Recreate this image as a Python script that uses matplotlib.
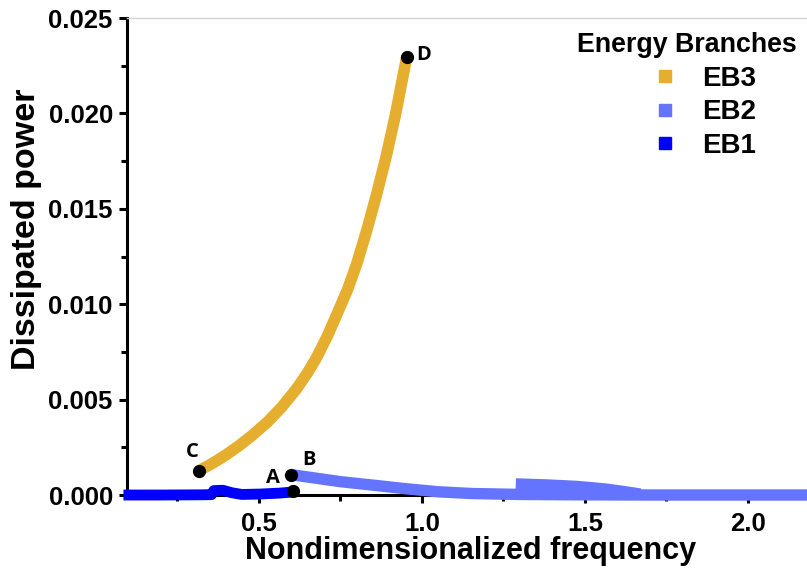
import matplotlib
matplotlib.use('Agg')
import matplotlib.pyplot as plt
from matplotlib.lines import Line2D
from matplotlib.ticker import MultipleLocator, FormatStrFormatter

plt.rcParams['font.family'] = ['Liberation Sans', 'DejaVu Sans']
plt.rcParams['font.weight'] = 'bold'

# 数据
eb1_x = [0.085, 0.20, 0.32, 0.355, 0.362, 0.39, 0.417, 0.448, 0.503, 0.564, 0.605]
eb1_y = [0.0, 0.0, 0.00001, 0.00002, 0.00023, 0.00025, 0.00012, 0.00003, 0.00005, 0.0001, 0.00016]

eb2_x = [0.605, 0.66, 0.75, 0.86, 0.95, 1.05, 1.15, 1.30, 1.50, 1.70, 2.20]
eb2_y = [0.00105, 0.00092, 0.0007, 0.0005, 0.00033, 0.00017, 0.00008, 0.00003, 0.00001, 0.0, 0.0]
eb2b_x = [1.288, 1.38, 1.475, 1.56, 1.62, 1.67]
eb2b_y = [0.00058, 0.00053, 0.00045, 0.00032, 0.00018, 0.00005]

eb3_x = [0.316, 0.36, 0.40, 0.44, 0.48, 0.527, 0.57, 0.616, 0.65, 0.678, 0.71, 0.74,
         0.773, 0.80, 0.83, 0.862, 0.89, 0.92, 0.954]
eb3_y = [0.00126, 0.00168, 0.00211, 0.00259, 0.00313, 0.00383, 0.0046, 0.00557, 0.00642,
         0.00723, 0.00832, 0.00949, 0.0108, 0.0121, 0.0138, 0.0158, 0.0177, 0.0200, 0.0230]

pt_labels = ['A', 'B', 'C', 'D']
pt_x = [0.604, 0.600, 0.316, 0.954]
pt_y = [0.00021, 0.00105, 0.00127, 0.02296]

series_names = ['EB3', 'EB2', 'EB1']
series_colors = ['#E5AE2E', '#6474FF', '#0000FF']

fig = plt.figure(figsize=(8.07, 5.74), dpi=100)
ax = fig.add_axes([0.157, 0.1376, 0.843, 0.831])

# 画三条能量分支
ax.plot(eb1_x, eb1_y, color=series_colors[2], lw=7.8, solid_capstyle='butt', clip_on=False, zorder=3)
ax.plot(eb2_x, eb2_y, color=series_colors[1], lw=8.2, solid_capstyle='butt', clip_on=False, zorder=3)
ax.plot(eb2b_x, eb2b_y, color=series_colors[1], lw=8.2, solid_capstyle='butt', clip_on=False, zorder=3)
ax.plot(eb3_x, eb3_y, color=series_colors[0], lw=8.3, solid_capstyle='butt',
        solid_joinstyle='round', clip_on=False, zorder=3)

# 特征点
ax.plot(pt_x, pt_y, 'o', color='black', ms=8.5, clip_on=False, zorder=5)
offsets = {'A': (-20, 13), 'B': (18, 15), 'C': (-7, 19), 'D': (17, 2)}
for lab, x, y in zip(pt_labels, pt_x, pt_y):
    ax.annotate(lab, (x, y), xytext=offsets[lab], textcoords='offset pixels',
                ha='center', va='center', fontsize=14.5, fontweight='bold',
                family=['Open Sans', 'DejaVu Sans'], zorder=6)

ax.set_xlim(0.095, 2.181)
ax.set_ylim(0, 0.025)

ax.xaxis.set_major_locator(MultipleLocator(0.5))
ax.xaxis.set_minor_locator(MultipleLocator(0.25))
ax.yaxis.set_major_locator(MultipleLocator(0.005))
ax.yaxis.set_minor_locator(MultipleLocator(0.0025))
ax.xaxis.set_major_formatter(FormatStrFormatter('%.1f'))
ax.yaxis.set_major_formatter(FormatStrFormatter('%.3f'))

ax.spines['right'].set_visible(False)
ax.spines['top'].set_color('#d3d3d3')
ax.spines['top'].set_linewidth(1)
for s in ['left', 'bottom']:
    ax.spines[s].set_linewidth(2.2)

ax.tick_params(axis='both', which='major', length=6, width=2.2, labelsize=18.5)
ax.tick_params(axis='both', which='minor', length=4.5, width=2.2)
ax.tick_params(axis='x', which='major', pad=6)
ax.tick_params(axis='y', which='major', pad=4)
for t in ax.get_xticklabels() + ax.get_yticklabels():
    t.set_fontweight('bold')

ax.set_xlabel('Nondimensionalized frequency', fontsize=22, fontweight='bold')
ax.set_ylabel('Dissipated power', fontsize=24.5, fontweight='bold')
ax.xaxis.set_label_coords(0.506, -0.086)
ax.yaxis.set_label_coords(-0.125, 0.557)

# 图例
handles = [Line2D([], [], ls='none', marker='s', ms=8, color=c) for c in series_colors]
leg = ax.legend(handles, series_names, title='Energy Branches', loc='upper right',
                bbox_to_anchor=(0.985, 0.97), frameon=False, borderpad=0, borderaxespad=0,
                handlelength=3.42, handletextpad=-0.36, labelspacing=0.27,
                prop={'size': 20, 'weight': 'bold'},
                title_fontproperties={'size': 19.3, 'weight': 'bold'})

plt.savefig('out.png', dpi=100)
